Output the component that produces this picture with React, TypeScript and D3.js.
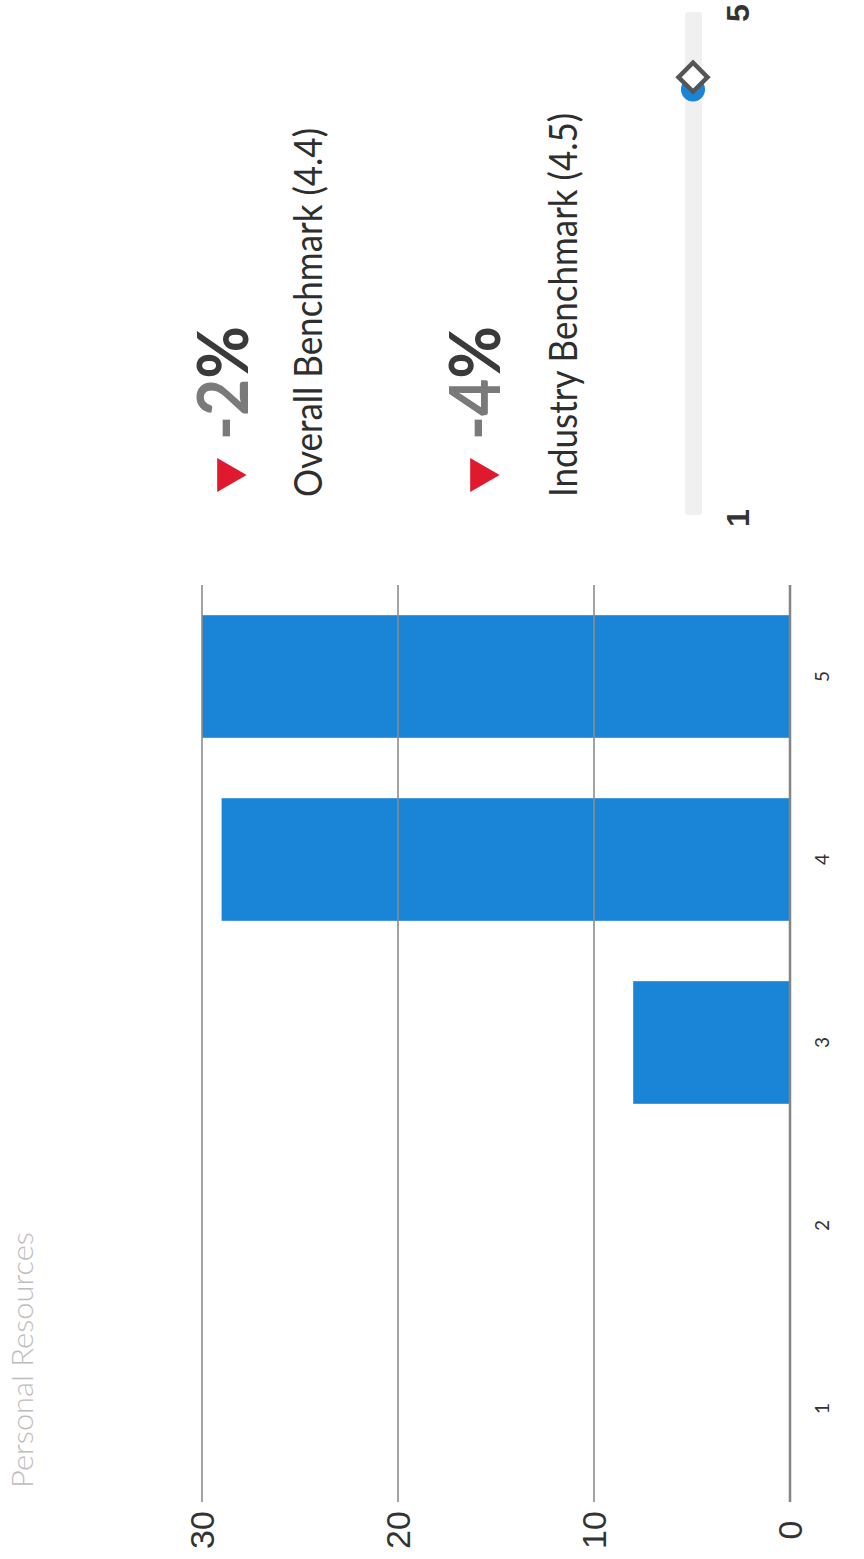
import React from 'react';
import * as d3 from 'd3';

// Distribution of responses (count per rating 1..5)
const categories = ['1', '2', '3', '4', '5'];
const counts = [0, 0, 8, 29, 30];
const valueTicks = [0, 10, 20, 30];

const title = 'Personal Resources';

// Benchmark comparison panel
const deltaValues = ['-2', '-4'];
const benchmarkNames = ['Overall Benchmark (4.4)', 'Industry Benchmark (4.5)'];

// Score slider
const scaleEnds = [1, 5];
const scoreValue = 4.4;
const industryBenchmark = 4.5;

const W = 864;
const H = 1559;

const BLUE = '#1a84d6';
const RED = '#e0192e';

export default function App() {
  // The page is laid out landscape (u across, v down) and turned a quarter turn.
  const x = d3
    .scaleBand<string>()
    .domain(categories)
    .range([59, 974])
    .paddingInner(0.33)
    .paddingOuter(0.165);
  const y = d3.scaleLinear().domain([0, 30]).range([790, 202]);
  const s = d3.scaleLinear().domain(scaleEnds).range([1047, 1544]);

  const tri = d3.symbol().type(d3.symbolTriangle).size(500)() as string;
  const diamond = d3.symbol().type(d3.symbolSquare).size(420)() as string;

  const deltaRows = [
    { top: 248, tri: 227 },
    { top: 500, tri: 480 },
  ];
  const nameBaselines = [322, 577];
  const nameLengths = [369, 384];

  return (
    <svg
      width={W}
      height={H}
      style={{ position: 'absolute', left: 0, top: 0, background: '#fff' }}
    >
      <rect width={W} height={H} fill="#fff" />
      <g transform={`translate(0,${H}) rotate(-90)`}>
        {/* title */}
        <text
          x={71}
          y={33}
          fontFamily="Lato, 'Open Sans', sans-serif"
          fontWeight={300}
          fontSize={30}
          fill="#bdbdbd"
          textLength={256}
          lengthAdjust="spacingAndGlyphs"
        >
          {title}
        </text>

        {/* bars */}
        {categories.map((c, i) =>
          counts[i] > 0 ? (
            <rect
              key={c}
              x={x(c)}
              y={y(counts[i])}
              width={x.bandwidth()}
              height={y(0) - y(counts[i])}
              fill={BLUE}
            />
          ) : null
        )}

        {/* value gridlines and axis */}
        {valueTicks.map((t) => (
          <line
            key={t}
            x1={57}
            x2={974}
            y1={y(t)}
            y2={y(t)}
            stroke={t === 0 ? '#858585' : '#8c8c8c'}
            strokeWidth={t === 0 ? 2.5 : 1.6}
          />
        ))}
        {valueTicks.map((t) => (
          <text
            key={'l' + t}
            x={29}
            y={y(t) + 12}
            textAnchor="middle"
            fontFamily="'Liberation Sans', Arial, sans-serif"
            fontSize={34}
            fill="#333"
          >
            {t}
          </text>
        ))}

        {/* category labels */}
        {categories.map((c) => (
          <text
            key={'c' + c}
            x={(x(c) as number) + x.bandwidth() / 2}
            y={829}
            textAnchor="middle"
            fontFamily="Lato, sans-serif"
            fontSize={19}
            fill="#333"
          >
            {c}
          </text>
        ))}

        {/* benchmark deltas */}
        {deltaValues.map((d, i) => (
          <g key={'d' + i}>
            <path
              d={tri}
              transform={`translate(1084,${deltaRows[i].tri}) rotate(180)`}
              fill={RED}
            />
            <text
              x={1119}
              y={deltaRows[i].top}
              fontFamily="Lato, sans-serif"
              fontWeight={700}
              fontSize={70}
              textLength={114}
              lengthAdjust="spacingAndGlyphs"
            >
              <tspan fill="#7a7a7a">{d}</tspan>
              <tspan fill="#3a3a3a">%</tspan>
            </text>
          </g>
        ))}
        {benchmarkNames.map((n, i) => (
          <text
            key={n}
            x={1062}
            y={nameBaselines[i]}
            fontFamily="Lato, sans-serif"
            fontSize={39}
            fill="#2e2e2e"
            textLength={nameLengths[i]}
            lengthAdjust="spacingAndGlyphs"
          >
            {n}
          </text>
        ))}

        {/* score slider */}
        <rect
          x={s(1) - 3}
          y={685}
          width={s(5) - s(1) + 6}
          height={17}
          rx={3}
          fill="#f0f0f0"
        />
        <circle cx={s(scoreValue)} cy={693} r={12} fill={BLUE} />
        <path
          d={diamond}
          transform={`translate(${s(industryBenchmark)},693) rotate(45)`}
          fill="#fff"
          stroke="#555"
          strokeWidth={4.5}
        />
        {scaleEnds.map((e, i) => (
          <text
            key={'e' + e}
            x={i === 0 ? s(e) - 6 : s(e) + 2}
            y={749}
            textAnchor="middle"
            fontFamily="'Liberation Sans', Arial, sans-serif"
            fontWeight={700}
            fontSize={32}
            fill="#333"
          >
            {e}
          </text>
        ))}
      </g>
    </svg>
  );
}
